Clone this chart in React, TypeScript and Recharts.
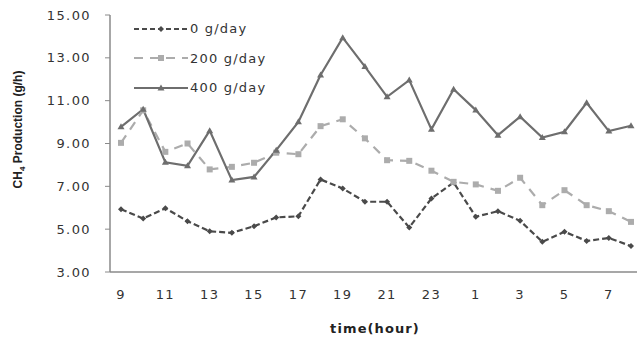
import { LineChart, Line, XAxis, YAxis } from 'recharts';

const hours = ['9', '10', '11', '12', '13', '14', '15', '16', '17', '18', '19', '20', '21', '22', '23', '0', '1', '2', '3', '4', '5', '6', '7', '8'];
const g0 = [5.93, 5.5, 5.98, 5.37, 4.9, 4.83, 5.14, 5.55, 5.6, 7.32, 6.9, 6.28, 6.28, 5.08, 6.43, 7.18, 5.58, 5.84, 5.39, 4.41, 4.88, 4.45, 4.59, 4.21];
const g200 = [9.03, 10.55, 8.61, 9.0, 7.79, 7.91, 8.1, 8.57, 8.5, 9.81, 10.13, 9.24, 8.22, 8.19, 7.73, 7.21, 7.09, 6.79, 7.4, 6.12, 6.82, 6.12, 5.84, 5.34];
const g400 = [9.78, 10.6, 8.12, 7.96, 9.6, 7.29, 7.44, 8.69, 10.01, 12.2, 13.94, 12.59, 11.18, 11.96, 9.66, 11.53, 10.56, 9.39, 10.25, 9.28, 9.55, 10.9, 9.58, 9.83];
const yTicks = [3, 5, 7, 9, 11, 13, 15];

const data = hours.map((h, i) => ({ hour: h, g0: g0[i], g200: g200[i], g400: g400[i] }));

const C0 = '#4a4a4a';
const C200 = '#acacac';
const C400 = '#6e6e6e';
const tickFont = { fontFamily: 'DejaVu Sans', fontSize: 13, fill: '#333', letterSpacing: 1.4 };

const Diamond = (props: any) => {
  const { cx, cy, fill } = props;
  if (cx == null || cy == null) return null;
  return <path d={`M${cx},${cy - 3} L${cx + 3},${cy} L${cx},${cy + 3} L${cx - 3},${cy} Z`} fill={fill} />;
};
const Square = (props: any) => {
  const { cx, cy, fill } = props;
  if (cx == null || cy == null) return null;
  return <rect x={cx - 3} y={cy - 3} width={6} height={6} fill={fill} />;
};
const Triangle = (props: any) => {
  const { cx, cy, fill } = props;
  if (cx == null || cy == null) return null;
  return <path d={`M${cx},${cy - 3.5} L${cx + 3.5},${cy + 2.5} L${cx - 3.5},${cy + 2.5} Z`} fill={fill} />;
};

const legendItems = [
  { name: '0 g/day', color: C0, dash: '5 3', Mark: Diamond },
  { name: '200 g/day', color: C200, dash: '9 7', Mark: Square },
  { name: '400 g/day', color: C400, dash: undefined, Mark: Triangle },
];

const ChartLegend = () => (
  <div style={{ position: 'absolute', left: 133, top: 14 }}>
    {legendItems.map((it) => (
      <div key={it.name} style={{ display: 'flex', alignItems: 'center', height: 29.5 }}>
        <svg width={56} height={12}>
          <line x1={1} y1={6} x2={55} y2={6} stroke={it.color} strokeWidth={2} strokeDasharray={it.dash} />
          <it.Mark cx={28} cy={6} fill={it.color} />
        </svg>
        <span style={{ fontFamily: 'DejaVu Sans', fontSize: 13, color: '#333', letterSpacing: 1.2, marginLeft: 1 }}>{it.name}</span>
      </div>
    ))}
  </div>
);

const YLabel = (props: any) => {
  const vb = props.viewBox || { y: 15, height: 257 };
  const cy = vb.y + vb.height / 2 - 14;
  return (
    <text x={0} y={0} transform={`translate(22, ${cy}) rotate(-90)`} textAnchor="middle"
      style={{ fontFamily: 'Liberation Sans', fontSize: 12, fontWeight: 'bold', fill: '#222' }}>
      CH<tspan fontSize={8} dy={3}>4</tspan><tspan dy={-3}> Production (g/h)</tspan>
    </text>
  );
};

const XLabel = () => (
  <text x={375} y={333} textAnchor="middle"
    style={{ fontFamily: 'DejaVu Sans', fontSize: 13, fontWeight: 'bold', fill: '#222', letterSpacing: 1.1 }}>
    time(hour)
  </text>
);

export default function App() {
  return (
    <div style={{ position: 'absolute', left: 0, top: 0, width: 637, height: 339, background: '#fff' }}>
      <LineChart width={637} height={339} data={data} margin={{ top: 15, right: 0, bottom: 0, left: 0 }}>
        <XAxis dataKey="hour" interval={1} height={67} padding={{ left: 11, right: 6 }}
          axisLine={{ stroke: '#8a8a8a', strokeWidth: 1.5 }} tickLine={false} tickSize={6} tickMargin={12}
          tick={tickFont} />
        <YAxis width={110} domain={[3, 15]} ticks={yTicks} tickFormatter={(v: number) => v.toFixed(2)}
          axisLine={{ stroke: '#8a8a8a', strokeWidth: 1.5 }} tickLine={{ stroke: '#8a8a8a' }} tickSize={5} tickMargin={14}
          tick={tickFont} label={<YLabel />} allowDataOverflow />
        <Line dataKey="g0" name="0 g/day" stroke={C0} strokeWidth={2.2} strokeDasharray="6 3"
          dot={<Diamond fill={C0} />} activeDot={false} isAnimationActive={false} />
        <Line dataKey="g200" name="200 g/day" stroke={C200} strokeWidth={2.2} strokeDasharray="9 7"
          dot={<Square fill={C200} />} activeDot={false} isAnimationActive={false} />
        <Line dataKey="g400" name="400 g/day" stroke={C400} strokeWidth={2.2}
          dot={<Triangle fill={C400} />} activeDot={false} isAnimationActive={false} />
        <XLabel />
      </LineChart>
      <ChartLegend />
    </div>
  );
}
